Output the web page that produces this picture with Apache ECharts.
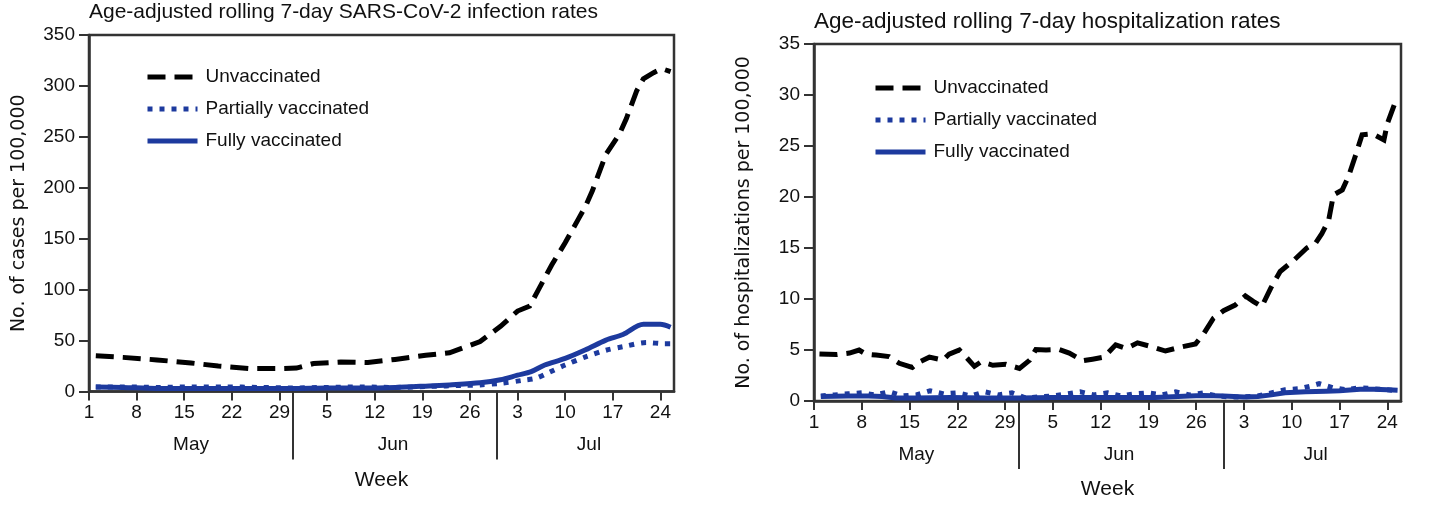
<!DOCTYPE html>
<html>
<head>
<meta charset="utf-8">
<script src="https://cdn.jsdelivr.net/npm/echarts@6/dist/echarts.min.js"></script>
<style>
  html, body { margin: 0; padding: 0; background: #fff; }
  #chart { width: 1433px; height: 519px; }
</style>
</head>
<body>
<div id="chart"></div>
<script>
// day index 0 = May 1
const tickDays = [0, 7, 14, 21, 28, 35, 42, 49, 56, 63, 70, 77, 84];
const dayLabels = ['1', '8', '15', '22', '29', '5', '12', '19', '26', '3', '10', '17', '24'];
const monthBreaks = [30, 60];
const monthCenters = [15, 44.7, 73.5];
const monthLabels = ['May', 'Jun', 'Jul'];

// infection rates (cases per 100,000)
const infUnvaxDays = [1, 5, 10, 15, 19, 23.5, 28, 30.5, 33, 37, 41, 45, 49.5, 53, 57.5, 60.5, 63, 64.8, 66, 68, 70, 72, 73, 74, 76, 78, 79, 80.5, 81.5, 83, 84.2, 85.5];
const infUnvax = [35, 33.5, 31, 28, 25, 22.5, 22.5, 23, 27.5, 29, 28.5, 31.5, 35.5, 38, 49, 64, 79, 84, 99, 124, 146, 170, 182, 197, 233, 253, 268, 295, 307, 313, 317, 314];
const infPartialDays = [1, 5, 10, 15, 20, 25, 30, 35, 40, 45, 50, 55, 57.5, 60.5, 63.8, 65.7, 67.7, 70, 73, 76, 78.5, 82, 84.5, 85.5];
const infPartial = [4.5, 4.5, 4, 4.5, 4.5, 4, 3.5, 4, 4.5, 4, 5, 6, 6.5, 8, 11, 13, 19, 26, 34, 40.5, 44, 48, 47, 47];
const infFullDays = [1, 5, 10, 15, 20, 25, 30, 35, 40, 45, 50, 53, 57.5, 60.5, 63, 65, 67, 70, 73, 76, 78.5, 81.5, 84, 85.5];
const infFull = [4.5, 4, 3, 3, 3, 3, 3, 3.5, 3.5, 4, 5.5, 6.5, 8.5, 11.5, 16, 19.5, 26, 32.5, 41, 50.5, 56, 66, 66, 63];

// hospitalization rates (per 100,000)
const hospUnvaxDays = [0.8, 3.3, 5.2, 6.6, 7.6, 9.1, 11, 12.5, 14.4, 15.2, 16.9, 18.9, 19.8, 21.3, 22.3, 23.5, 24.5, 26.2, 28.1, 30.1, 31.6, 32.5, 34, 35.9, 37.4, 39.4, 40.8, 42.5, 44.2, 45.7, 47.4, 49.6, 51.5, 53.5, 55.9, 57.1, 58.5, 60, 61.7, 63.2, 64.4, 65.6, 66.9, 68.3, 70.3, 72.2, 73.5, 74.4, 75.4, 76.1, 77.4, 78.3, 79.3, 80.3, 81.8, 83.5, 84, 85];
const hospUnvax = [4.6, 4.55, 4.7, 5.0, 4.6, 4.5, 4.35, 3.7, 3.3, 3.75, 4.3, 4.0, 4.6, 5.0, 4.3, 3.4, 3.85, 3.5, 3.6, 3.2, 4.0, 5.05, 5.0, 5.05, 4.7, 3.95, 4.1, 4.3, 5.5, 5.15, 5.7, 5.3, 4.9, 5.25, 5.6, 6.6, 8.1, 8.85, 9.4, 10.3, 9.75, 9.25, 11.05, 12.7, 13.8, 15.0, 15.5, 16.4, 17.7, 20.2, 20.7, 22.0, 24.0, 26.1, 26.2, 25.6, 27.2, 29.0];
const hospPartialDays = [1, 3, 5, 7, 9, 11, 13, 15, 17, 19, 21, 23, 25, 27, 29, 31, 33, 35, 37, 39, 41, 43, 45, 47, 49, 51, 53, 55, 57, 59, 61, 63, 65, 67, 69, 71, 73, 74, 76, 78, 80, 82, 84, 85.5];
const hospPartial = [0.5, 0.6, 0.7, 0.8, 0.6, 0.9, 0.5, 0.6, 1.0, 0.7, 0.8, 0.5, 0.9, 0.6, 0.8, 0.3, 0.4, 0.5, 0.7, 0.9, 0.6, 0.8, 0.5, 0.7, 0.8, 0.6, 0.9, 0.6, 0.8, 0.5, 0.4, 0.4, 0.5, 0.8, 1.1, 1.2, 1.5, 1.7, 1.3, 1.1, 1.3, 1.2, 1.1, 1.0];
const hospFullDays = [1, 5, 8, 10, 12, 15, 20, 25, 30, 35, 40, 45, 50, 55, 57, 60, 63, 65, 67, 69, 72, 75, 77, 80, 82, 84, 85.5];
const hospFull = [0.45, 0.5, 0.5, 0.45, 0.3, 0.3, 0.35, 0.3, 0.3, 0.35, 0.35, 0.35, 0.35, 0.5, 0.55, 0.5, 0.4, 0.45, 0.6, 0.8, 0.9, 0.95, 1.0, 1.15, 1.15, 1.1, 1.05];

const pairs = (xs, ys) => xs.map((x, i) => [x, ys[i]]);

const sans = "'Liberation Sans', Arial, sans-serif";
const axisColor = '#333';
const blue = '#1d3a9e';
const textColor = '#111';

const grids = [
  { left: 89, top: 35, width: 585, height: 356.5 },
  { left: 814, top: 44, width: 587, height: 357 }
];

function dayAxis(gridIndex) {
  return {
    type: 'value', gridIndex, position: 'bottom', min: 0, max: 86,
    name: 'Week', nameLocation: 'middle', nameGap: 78,
    nameTextStyle: { fontFamily: sans, fontSize: 21, color: textColor },
    axisLine: { show: true, lineStyle: { color: axisColor, width: 2.5 } },
    axisTick: { show: true, customValues: tickDays, length: 9, lineStyle: { color: axisColor, width: 2 } },
    axisLabel: {
      customValues: tickDays, margin: 12, fontFamily: sans, fontSize: 19, color: textColor,
      formatter: v => dayLabels[tickDays.indexOf(v)] || ''
    },
    splitLine: { show: false }
  };
}

function monthAxis(gridIndex) {
  return {
    type: 'value', gridIndex, position: 'bottom', min: 0, max: 86,
    axisLine: { show: false },
    axisTick: { show: true, customValues: monthBreaks, length: 68, lineStyle: { color: axisColor, width: 2 } },
    axisLabel: {
      customValues: monthCenters, margin: 44, fontFamily: sans, fontSize: 19, color: textColor,
      formatter: v => monthLabels[monthCenters.indexOf(v)] || ''
    },
    splitLine: { show: false }
  };
}

function rateAxis(gridIndex, max, interval, name) {
  return {
    type: 'value', gridIndex, min: 0, max, interval,
    name, nameLocation: 'middle', nameGap: 60,
    nameTextStyle: { fontFamily: 'DejaVu Sans', fontSize: 19, color: textColor },
    axisLine: { show: true, lineStyle: { color: axisColor, width: 2.5 } },
    axisTick: { show: true, length: 10, lineStyle: { color: axisColor, width: 2 } },
    axisLabel: { margin: 14, fontFamily: sans, fontSize: 19, color: textColor },
    splitLine: { show: false }
  };
}

function legendAt(left, top) {
  return {
    left, top, padding: 0, orient: 'vertical', itemWidth: 50, itemHeight: 14, itemGap: 12,
    selectedMode: false,
    lineStyle: { width: 5 },
    itemStyle: { opacity: 0 },
    textStyle: { fontFamily: sans, fontSize: 19, color: textColor, lineHeight: 20, padding: [0, 0, 0, 3] },
    data: ['Unvaccinated', 'Partially vaccinated', 'Fully vaccinated']
  };
}

function lineSeries(name, xi, yi, data, style, smooth) {
  return {
    name, type: 'line', xAxisIndex: xi, yAxisIndex: yi, data,
    symbol: 'none', smooth, animation: false,
    lineStyle: Object.assign({ width: 5, cap: 'butt', join: 'miter' }, style),
    itemStyle: { color: style.color }
  };
}

const dashed = { color: '#000', type: [18, 9] };
const dotted = { color: blue, type: [5, 7] };
const solid = { color: blue, type: 'solid' };

const chart = echarts.init(document.getElementById('chart'), null, { renderer: 'canvas' });

chart.setOption({
  backgroundColor: '#fff',
  animation: false,
  title: [
    { text: 'Age-adjusted rolling 7-day SARS-CoV-2 infection rates', left: 89, top: 2, padding: 0,
      textStyle: { fontFamily: sans, fontSize: 21, fontWeight: 'normal', color: textColor } },
    { text: 'Age-adjusted rolling 7-day hospitalization rates', left: 814, top: 10, padding: 0,
      textStyle: { fontFamily: sans, fontSize: 22.5, fontWeight: 'normal', color: textColor } }
  ],
  legend: [legendAt(145, 67), legendAt(873, 78)],
  grid: grids.map(g => Object.assign({ show: true, borderColor: axisColor, borderWidth: 2.5, containLabel: false }, g)),
  xAxis: [dayAxis(0), monthAxis(0), dayAxis(1), monthAxis(1)],
  yAxis: [
    rateAxis(0, 350, 50, 'No. of cases per 100,000'),
    rateAxis(1, 35, 5, 'No. of hospitalizations per 100,000')
  ],
  series: [
    lineSeries('Fully vaccinated', 0, 0, pairs(infFullDays, infFull), solid, 0.3),
    lineSeries('Partially vaccinated', 0, 0, pairs(infPartialDays, infPartial), dotted, 0.3),
    lineSeries('Unvaccinated', 0, 0, pairs(infUnvaxDays, infUnvax), dashed, false),
    lineSeries('Fully vaccinated', 2, 1, pairs(hospFullDays, hospFull), solid, false),
    lineSeries('Partially vaccinated', 2, 1, pairs(hospPartialDays, hospPartial), dotted, false),
    lineSeries('Unvaccinated', 2, 1, pairs(hospUnvaxDays, hospUnvax), dashed, false)
  ]
});

window.addEventListener('resize', () => chart.resize());
</script>
</body>
</html>
